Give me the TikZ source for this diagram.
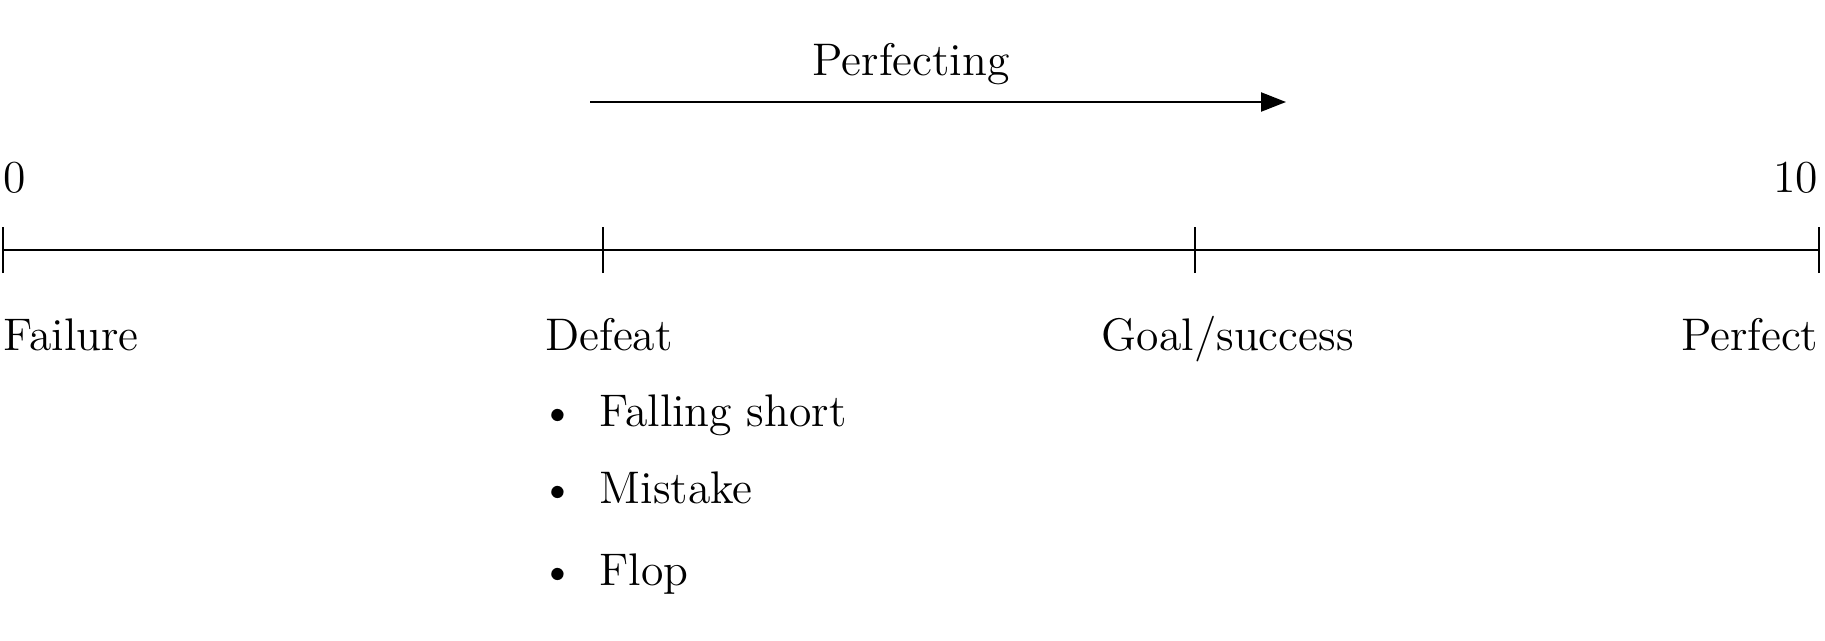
\documentclass[tikz,border=0pt]{standalone}
\usepackage{amsmath}
\usepackage{tikz}
\usetikzlibrary{arrows.meta}

\begin{document}
\begin{tikzpicture}[main/.style = {inner sep=0pt, font=\fontsize{13}{15}\selectfont},
                    mark line/.style = {line width=0.45pt},
                    axis line/.style = {line width=0.65pt}]
                \useasboundingbox (0, 0) rectangle (18.25, 6.4);

                \coordinate (T0) at (0.03, 3.90);
                \coordinate (T1) at (6.03, 3.90);
                \coordinate (T2) at (11.95, 3.90);
                \coordinate (T3) at (18.19, 3.90);

                \node[main, anchor=base west] at (0.03, 4.48) (zero) {0};
                \node[main, anchor=base east] at (18.19, 4.48) (ten) {10};

                \node[main, anchor=base west] at (0.03, 2.90) (F) {Failure};
                \node[main, anchor=base] at (6.09, 2.90) (D) {Defeat};
                \node[main, anchor=base west] at (11.01, 2.90) (G) {Goal/success};
                \node[main, anchor=base east] at (18.19, 2.90) (P) {Perfect};

                \node[main, anchor=base] at (5.58, 2.14) (b1) {\textbullet};
                \node[main, anchor=base west] at (5.99, 2.14) (I1) {Falling short};
                \node[main, anchor=base] at (5.58, 1.37) (b2) {\textbullet};
                \node[main, anchor=base west] at (5.99, 1.37) (I2) {Mistake};
                \node[main, anchor=base] at (5.58, 0.55) (b3) {\textbullet};
                \node[main, anchor=base west] at (5.99, 0.55) (I3) {Flop};

                \node[main, anchor=base] at (9.11, 5.65) (pf) {Perfecting};
                \coordinate (pfA) at (5.90, 5.38);
                \coordinate (pfB) at (12.86, 5.38);

                \draw [axis line] (T0) -- (T3);
                \draw [mark line] ([yshift=-0.23cm]T0) -- ([yshift=0.23cm]T0);
                \draw [mark line] ([yshift=-0.23cm]T1) -- ([yshift=0.23cm]T1);
                \draw [mark line] ([yshift=-0.23cm]T2) -- ([yshift=0.23cm]T2);
                \draw [mark line] ([yshift=-0.23cm]T3) -- ([yshift=0.23cm]T3);

                \draw [axis line, -{Triangle[length=0.25cm, width=0.19cm]}] (pfA) -- (pfB);
                \end{tikzpicture}
\end{document}
